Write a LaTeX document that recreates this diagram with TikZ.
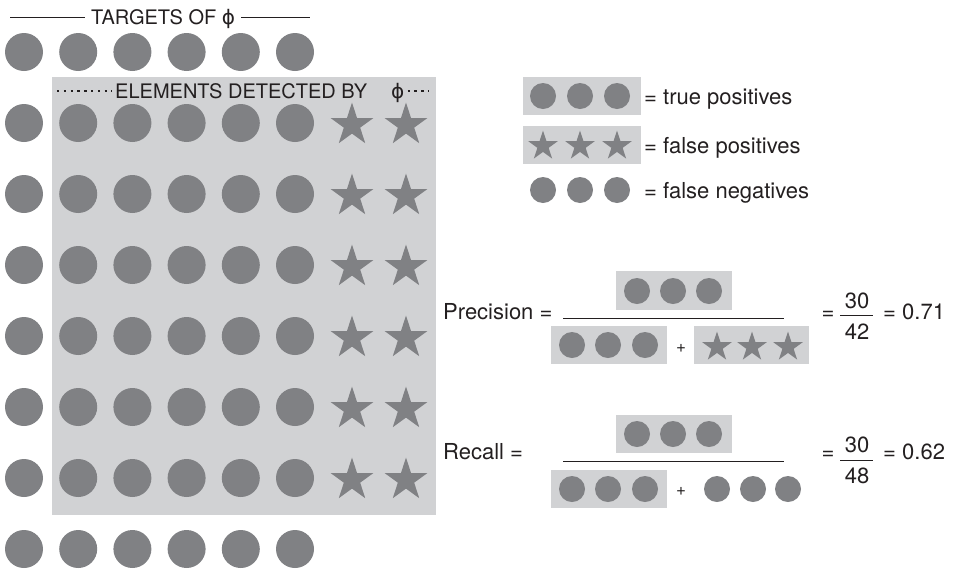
\documentclass[tikz,border=0pt]{standalone}
\usepackage{fontspec}
\setmainfont{TeX Gyre Heros}
\newfontfamily\phifont{DejaVu Sans}
\usetikzlibrary{shapes.geometric}
\definecolor{dotgray}{HTML}{808184}
\definecolor{boxgray}{HTML}{D1D2D4}
\definecolor{ink}{HTML}{231F20}
\begin{document}
\begin{tikzpicture}[x=1pt,y=-1pt,
  bigc/.style={circle,fill=dotgray,minimum size=38pt,inner sep=0},
  bigs/.style={star,star points=5,star point ratio=2.618,fill=dotgray,minimum size=45pt,inner sep=0},
  smallc/.style={circle,fill=dotgray,minimum size=26pt,inner sep=0},
  smalls/.style={star,star points=5,star point ratio=2.618,fill=dotgray,minimum size=31pt,inner sep=0},
  lbl/.style={text=ink,font=\fontsize{20}{22}\selectfont,inner ysep=0,inner xsep=0},
  rt/.style={text=ink,font=\fontsize{22}{24}\selectfont,inner sep=0},
  plus/.style={text=ink,font=\fontsize{17}{19}\selectfont,inner sep=0},
  rule/.style={draw=ink,line width=0.9pt},
  dotrule/.style={draw=ink,line width=1.3pt,dash pattern=on 2.4pt off 4.4pt}]
\useasboundingbox (0,0) rectangle (964,571);

% detection area
\fill[boxgray] (52,77) rectangle (436,515);

% titles
\node[lbl,anchor=base west,inner xsep=6pt] (ttl) at (85,24) {TARGETS OF {\phifont ϕ}};
\coordinate (tl) at (10,17);
\coordinate (tr) at (310,17);
\draw[rule] (tl) -- (ttl.west |- tl);
\draw[rule] (ttl.east |- tr) -- (tr);

\node[lbl,anchor=base west,inner xsep=3pt] (det) at (112,98) {ELEMENTS DETECTED BY\hspace{24pt}{\phifont ϕ}};
\coordinate (dl) at (57,91);
\coordinate (dr) at (429,91);
\draw[dotrule] (dl) -- (det.west |- dl);
\draw[dotrule] (det.east |- dr) -- (dr);

% grid of elements
\foreach \c in {1,...,6}{
  \node[bigc] (t1-\c) at ({24+54.2*(\c-1)},52) {};
  \node[bigc] (t8-\c) at ({24+54.2*(\c-1)},549) {};
}
\foreach \r in {2,...,7}{
  \foreach \c in {1,...,6}{
    \node[bigc] (t\r-\c) at ({24+54.2*(\c-1)},{52+71*(\r-1)}) {};
  }
  \node[bigs] (s\r-1) at (352,{54+71*(\r-1)}) {};
  \node[bigs] (s\r-2) at (406,{54+71*(\r-1)}) {};
}

% legend
\fill[boxgray] (523,77) rectangle (641,115);
\fill[boxgray] (523,126) rectangle (641,164);
\foreach \i/\x in {1/543,2/580,3/617}{
  \node[smallc] (ltp\i) at (\x,96) {};
  \node[smalls] (lfp\i) at (\x,146) {};
  \node[smallc] (lfn\i) at (\x,190) {};
}
\node[rt,anchor=base west] (ltpt) at (644,104) {= true positives};
\node[rt,anchor=base west] (lfpt) at (644,153) {= false positives};
\node[rt,anchor=base west] (lfnt) at (644,198) {= false negatives};

% precision
\node[rt,anchor=base west] (prec) at (443,319) {Precision =};
\fill[boxgray] (616,271) rectangle (732,310);
\fill[boxgray] (551,326) rectangle (667,364);
\fill[boxgray] (694,326) rectangle (809,364);
\coordinate (pb1) at (563,318);
\coordinate (pb2) at (784,318);
\draw[rule] (pb1) -- (pb2);
\foreach \i/\x in {1/637,2/673,3/709}{
  \node[smallc] (pn\i) at (\x,291) {};
}
\foreach \i/\x in {1/572,2/608,3/645}{
  \node[smallc] (pd\i) at (\x,345) {};
}
\foreach \i/\x in {1/717,2/752,3/788}{
  \node[smalls] (ps\i) at (\x,347) {};
}
\node[plus] (pplus) at (681,348) {+};
\node[rt,anchor=base] (peq) at (828,319) {=};
\node[rt,anchor=base] (pnum) at (857,308) {30};
\node[rt,anchor=base] (pden) at (857,339) {42};
\coordinate (pf1) at (840,315);
\coordinate (pf2) at (873,315);
\draw[draw=ink,line width=0.8pt] (pf1) -- (pf2);
\node[rt,anchor=base west] (pval) at (883,319) {= 0.71};

% recall
\node[rt,anchor=base west] (rec) at (443,459) {Recall =};
\fill[boxgray] (616,415) rectangle (732,453);
\fill[boxgray] (551,470) rectangle (667,508);
\coordinate (rb1) at (563,461);
\coordinate (rb2) at (784,461);
\draw[rule] (rb1) -- (rb2);
\foreach \i/\x in {1/637,2/673,3/709}{
  \node[smallc] (rn\i) at (\x,434) {};
}
\foreach \i/\x in {1/572,2/608,3/645}{
  \node[smallc] (rd\i) at (\x,489) {};
}
\foreach \i/\x in {1/717,2/753,3/788}{
  \node[smallc] (rf\i) at (\x,489) {};
}
\node[plus] (rplus) at (681,491) {+};
\node[rt,anchor=base] (req) at (828,459) {=};
\node[rt,anchor=base] (rnum) at (857,452) {30};
\node[rt,anchor=base] (rden) at (857,483) {48};
\coordinate (rf1) at (840,460);
\coordinate (rf2) at (873,460);
\draw[draw=ink,line width=0.8pt] (rf1) -- (rf2);
\node[rt,anchor=base west] (rval) at (883,459) {= 0.62};
\end{tikzpicture}
\end{document}
